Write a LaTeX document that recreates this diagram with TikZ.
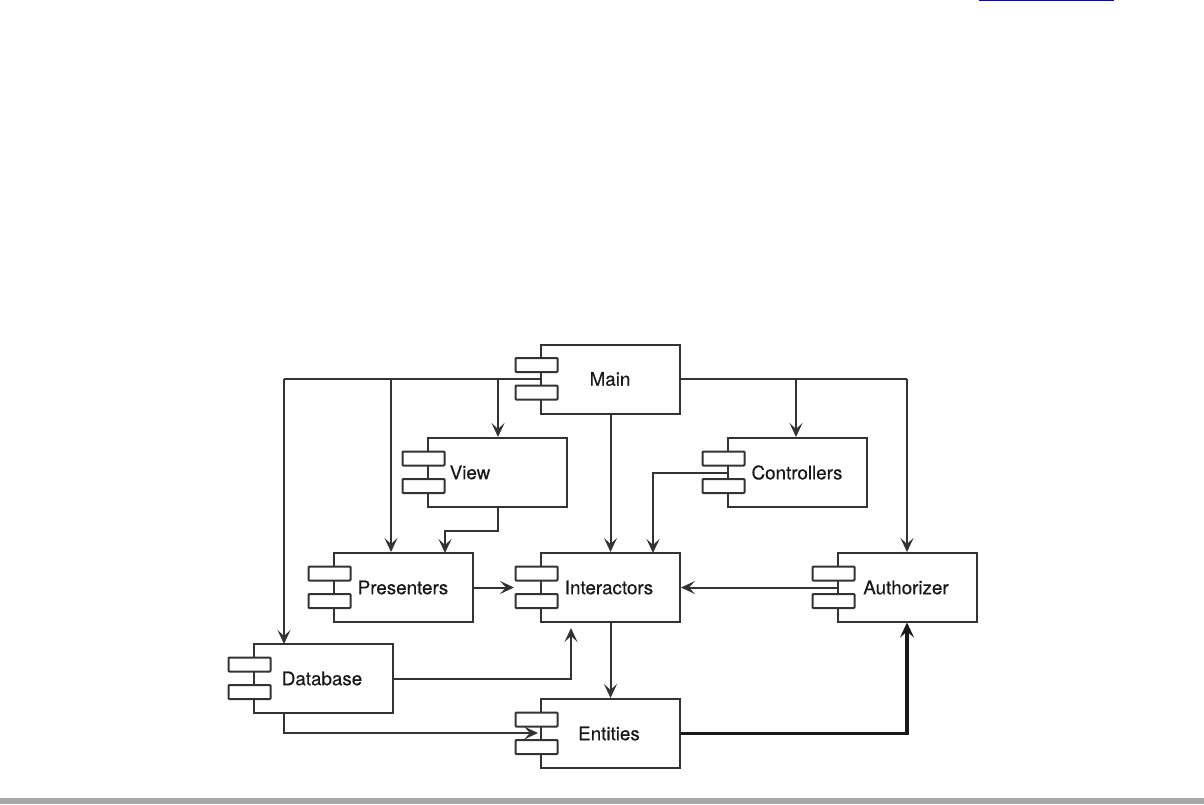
\documentclass[tikz,border=0pt]{standalone}
\usepackage{fontspec}
\setmainfont{TeX Gyre Heros}[FakeBold=0.25,AutoFakeBold=false]
\newfontfamily\boxfont{TeX Gyre Heros}[RawFeature={embolden=0.35}]
\usetikzlibrary{arrows.meta}
\definecolor{ink}{HTML}{333333}
\definecolor{band}{HTML}{A7A7AA}
\tikzset{
  x=1pt,y=-1pt,
  compbox/.style={draw=ink,line width=2pt,fill=white,minimum width=139pt,minimum height=69pt,inner sep=0pt},
  comptab/.style={draw=ink,line width=2pt,fill=white,minimum width=42pt,minimum height=14pt,inner sep=0pt,rounded corners=0.8pt},
  complabel/.style={font=\boxfont\fontsize{18.8}{22}\selectfont,text=black!90,inner sep=0pt,anchor=center},
  conn/.style={draw=ink,line width=2pt,-{Stealth[length=14pt,width=13pt,inset=6pt]}},
  connline/.style={draw=ink,line width=2pt},
  heavy/.style={draw=black!90,line width=3.4pt,-{Stealth[length=15pt,width=14pt,inset=6pt]}},
}
% name, box centre x, y, label centre x, label
\newcommand{\compo}[5]{%
  \node[compbox] (#1) at (#2,#3) {};
  \node[comptab] (#1t1) at (#2-74,#3-14) {};
  \node[comptab] (#1t2) at (#2-74,#3+13.5) {};
  \node[complabel] (#1l) at (#4,#3) {#5};
}
\begin{document}
\begin{tikzpicture}
\useasboundingbox (0,0) rectangle (1204,804);
\fill[white] (0,0) rectangle (1204,804);
\fill[band] (0,798) rectangle (1204,804);
\fill[blue] (979,0) rectangle (1114,1.2);

\coordinate (mj) at (284,379);
\coordinate (pj) at (391,379);
\coordinate (vj) at (498,379);
\coordinate (cj) at (796,379);
\coordinate (aj) at (907,379);

\compo{main}{610.5}{379}{610}{Main}
\compo{view}{497.5}{472.5}{470}{View}
\compo{ctrl}{797.5}{472.5}{797}{Controllers}
\compo{pres}{403.5}{587.5}{403}{Presenters}
\compo{inter}{610.5}{587.5}{609}{Interactors}
\compo{auth}{907.5}{587.5}{906}{Authorizer}
\compo{db}{323.5}{678.5}{322}{Database}
\compo{ent}{610.5}{733.5}{609}{Entities}

\coordinate (dbin) at (284,644);
\coordinate (dbout) at (284,713);
\coordinate (dbc) at (284,733);
\coordinate (enttip) at (538,733);
\coordinate (dbr) at (571,679);
\coordinate (dbtip) at (571,628);
\coordinate (ptip) at (514,587.5);
\coordinate (vout) at (498,507);
\coordinate (v1) at (498,531);
\coordinate (v2) at (445,531);
\coordinate (ptop) at (445,553);
\coordinate (cl) at (653,472.5);
\coordinate (itop) at (653,553);
\coordinate (eb) at (907,733.5);
\coordinate (abot) at (907,622.5);

\draw[connline] (main.west) -- (mj);
\draw[conn] (mj) -- (dbin);
\draw[conn] (pj) -- (pj |- pres.north);
\draw[conn] (vj) -- (vj |- view.north);
\draw[conn] (main.south) -- (inter.north);
\draw[connline] (main.east) -- (aj);
\draw[conn] (aj) -- (aj |- auth.north);
\draw[conn] (cj) -- (cj |- ctrl.north);
\draw[conn] (ctrl.west) -- (cl) -- (itop);
\draw[conn] (vout) -- (v1) -- (v2) -- (ptop);
\draw[conn] (pres.east) -- (ptip);
\draw[conn] (auth.west) -- (inter.east);
\draw[conn] (inter.south) -- (ent.north);
\draw[conn] (db.east |- dbr) -- (dbr) -- (dbtip);
\draw[conn] (dbout) -- (dbc) -- (enttip);
\draw[heavy] (ent.east) -- (eb) -- (abot);
\end{tikzpicture}
\end{document}
